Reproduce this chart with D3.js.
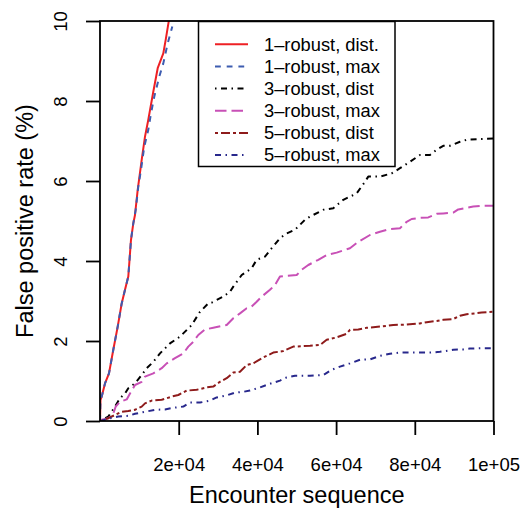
<!DOCTYPE html>
<html>
<head>
<meta charset="utf-8">
<script src="https://cdn.jsdelivr.net/npm/d3@7"></script>
<style>
  html, body { margin: 0; padding: 0; background: #fff; }
  svg text { font-family: "Liberation Sans", Arial, Helvetica, sans-serif; fill: #000; }
</style>
</head>
<body>
<svg id="chart" width="526" height="510"></svg>
<script>
// Series names, in legend order
const seriesNames = ["1\u2013robust, dist.", "1\u2013robust, max", "3\u2013robust, dist",
                     "3\u2013robust, max", "5\u2013robust, dist", "5\u2013robust, max"];

// Encounter index (x) and false positive rate in % (y) for each series
const x1dist = [0, 127, 432, 1270, 2287, 3380, 4498, 5514, 6353, 7191, 7877, 8461, 8894, 9580, 10596, 11435, 12273, 13544, 14662, 16085, 16694, 17533, 18000];
const y1dist = [0, 0.53, 0.61, 0.94, 1.19, 1.78, 2.36, 2.94, 3.28, 3.61, 4.53, 4.94, 5.15, 5.78, 6.53, 7.11, 7.53, 8.23, 8.82, 9.19, 9.53, 10.03, 10.15];

const x1max = [0, 127, 432, 1270, 2287, 3380, 4498, 5514, 6353, 7191, 7877, 8461, 9072, 9732, 10418, 11257, 12273, 12959, 13798, 15068, 16085, 17203, 18372];
const y1max = [0, 0.53, 0.61, 0.94, 1.19, 1.78, 2.36, 2.94, 3.28, 3.61, 4.53, 4.94, 5.28, 5.86, 6.28, 6.86, 7.28, 7.69, 8.11, 8.61, 8.94, 9.44, 9.86];

const x3dist = [0, 432, 2109, 3812, 5082, 6353, 7191, 8894, 10596, 11866, 13544, 15246, 17787, 20328, 21166, 23301, 25410, 27519, 28383, 31331, 33033, 33872, 36006, 38547, 39817, 41927, 43629, 45738, 47440, 49550, 52091, 53361, 56741, 59282, 61823, 65228, 67337, 68176, 71148, 74121, 76230, 78771, 81312, 83853, 85555, 87232, 88935, 91476, 93178, 96558, 100000];
const y3dist = [0, 0.03, 0.11, 0.36, 0.57, 0.69, 0.82, 0.94, 1.15, 1.32, 1.48, 1.69, 1.94, 2.11, 2.19, 2.40, 2.73, 2.94, 2.96, 3.11, 3.23, 3.36, 3.65, 3.82, 4.03, 4.11, 4.32, 4.57, 4.69, 4.78, 5.03, 5.11, 5.28, 5.32, 5.53, 5.69, 5.98, 6.11, 6.11, 6.19, 6.32, 6.48, 6.65, 6.65, 6.78, 6.88, 6.88, 6.98, 7.03, 7.05, 7.06];

const x3max = [0, 432, 2109, 3380, 3989, 5082, 6785, 7623, 8894, 10596, 11435, 13544, 15678, 16948, 19058, 21166, 22436, 23707, 24978, 26681, 28789, 32195, 33872, 35574, 37276, 38547, 39817, 41088, 43197, 44468, 45738, 47440, 49982, 51252, 52929, 55470, 57604, 60145, 63525, 65634, 68607, 71148, 73689, 76230, 77932, 79203, 81312, 83421, 85555, 87232, 89773, 91044, 93178, 94855, 96990, 100000];
const y3max = [0, 0.03, 0.07, 0.19, 0.36, 0.48, 0.54, 0.69, 0.90, 0.98, 1.11, 1.19, 1.32, 1.44, 1.57, 1.69, 1.86, 1.98, 2.15, 2.29, 2.33, 2.40, 2.57, 2.69, 2.82, 2.86, 2.98, 3.11, 3.28, 3.40, 3.61, 3.63, 3.65, 3.78, 3.90, 4.03, 4.15, 4.21, 4.32, 4.48, 4.65, 4.73, 4.80, 4.82, 4.98, 5.05, 5.08, 5.09, 5.18, 5.19, 5.21, 5.29, 5.33, 5.36, 5.38, 5.38];

const x5dist = [0, 432, 2109, 3812, 5514, 7191, 8894, 10596, 11435, 13137, 15678, 18219, 19896, 22030, 24571, 27112, 28789, 30492, 32195, 33872, 35574, 37276, 38954, 41495, 44036, 46577, 49118, 53361, 55902, 57604, 60145, 62686, 63525, 65634, 67768, 71148, 74527, 77932, 81312, 83014, 85555, 87232, 89773, 91476, 93178, 95288, 96990, 100000];
const y5dist = [0, 0.01, 0.07, 0.15, 0.23, 0.25, 0.28, 0.36, 0.44, 0.51, 0.53, 0.61, 0.65, 0.76, 0.78, 0.84, 0.86, 0.98, 1.07, 1.21, 1.23, 1.40, 1.44, 1.59, 1.71, 1.75, 1.86, 1.88, 1.90, 2.03, 2.09, 2.18, 2.28, 2.29, 2.33, 2.36, 2.40, 2.41, 2.44, 2.47, 2.50, 2.53, 2.55, 2.63, 2.67, 2.69, 2.71, 2.73];

const x5max = [0, 432, 2541, 4650, 7191, 8894, 11435, 13976, 16517, 18626, 21166, 22869, 25410, 27951, 29653, 32195, 34304, 36412, 38115, 40656, 43197, 45738, 47440, 49550, 53361, 56741, 58875, 60984, 63525, 66066, 68607, 71148, 73689, 76230, 83853, 86394, 88503, 89773, 92314, 94008, 96990, 100000];
const y5max = [0, 0.01, 0.07, 0.11, 0.13, 0.18, 0.23, 0.28, 0.29, 0.33, 0.36, 0.46, 0.46, 0.51, 0.59, 0.64, 0.71, 0.73, 0.76, 0.84, 0.93, 1.01, 1.09, 1.13, 1.13, 1.15, 1.28, 1.36, 1.44, 1.53, 1.54, 1.63, 1.68, 1.71, 1.71, 1.73, 1.76, 1.78, 1.79, 1.81, 1.82, 1.82];

const seriesX = [x1dist, x1max, x3dist, x3max, x5dist, x5max];
const seriesY = [y1dist, y1max, y3dist, y3max, y5dist, y5max];

// Axis ticks
const xTicks = [20000, 40000, 60000, 80000, 100000];
const xTickLabels = ["2e+04", "4e+04", "6e+04", "8e+04", "1e+05"];
const yTicks = [0, 2, 4, 6, 8, 10];

// Line styles per series
const colors = ["#ee2024", "#3d5cb0", "#000000", "#c850b6", "#8e1b1b", "#28288c"];
const dashes = [null, "5.8,5.9", "1.5,4.5,6,4.5", "11.5,5", "3,3,9,3", "6,4.5,1.5,4.5"];

const svg = d3.select("#chart");
const L = 100, R = 493.5, T = 21, B = 421;

const x = d3.scaleLinear().domain([0, 100000]).range([L, R]);
const y = d3.scaleLinear().domain([0, 10]).range([B, T]);

svg.append("defs").append("clipPath").attr("id", "plotclip")
  .append("rect").attr("x", L).attr("y", T).attr("width", R - L).attr("height", B - T);

// Data lines
const line = d3.line().x(d => x(d[0])).y(d => y(d[1]));
const lines = svg.append("g").attr("clip-path", "url(#plotclip)");
seriesX.forEach((xs, i) => {
  const pts = xs.map((v, j) => [v, seriesY[i][j]]);
  lines.append("path")
    .attr("d", line(pts))
    .attr("fill", "none")
    .attr("stroke", colors[i])
    .attr("stroke-width", 2)
    .attr("stroke-linejoin", "round")
    .attr("stroke-dasharray", dashes[i]);
});

// Plot frame
svg.append("rect")
  .attr("x", L).attr("y", T).attr("width", R - L).attr("height", B - T)
  .attr("fill", "none").attr("stroke", "#000").attr("stroke-width", 1.8);

// X axis
const xAxis = svg.append("g").attr("transform", `translate(0,${B})`)
  .call(d3.axisBottom(x).tickValues(xTicks).tickSize(14).tickPadding(23)
    .tickFormat((d, i) => xTickLabels[i]));
xAxis.select(".domain").remove();
xAxis.selectAll(".tick line").attr("stroke", "#000").attr("stroke-width", 1.8);
xAxis.selectAll(".tick text").attr("font-size", "18.5px")
  .attr("font-family", "Liberation Sans, Arial, sans-serif");

// Y axis with labels turned parallel to the axis
const yAxis = svg.append("g").attr("transform", `translate(${L},0)`)
  .call(d3.axisLeft(y).tickValues(yTicks).tickSize(14).tickFormat(d3.format("d")));
yAxis.select(".domain").remove();
yAxis.selectAll(".tick line").attr("stroke", "#000").attr("stroke-width", 1.8);
yAxis.selectAll(".tick text")
  .attr("font-size", "18.5px")
  .attr("font-family", "Liberation Sans, Arial, sans-serif")
  .attr("text-anchor", "middle")
  .attr("transform", "rotate(-90)")
  .attr("x", 0).attr("y", -33.3).attr("dy", 0);

// Axis titles
svg.append("text")
  .attr("x", (L + R) / 2).attr("y", 503)
  .attr("text-anchor", "middle").attr("font-size", "23.5px")
  .text("Encounter sequence");
svg.append("text")
  .attr("transform", `translate(33.3,${(T + B) / 2}) rotate(-90)`)
  .attr("text-anchor", "middle").attr("font-size", "23.5px")
  .text("False positive rate (%)");

// Legend
const lg = svg.append("g");
lg.append("rect").attr("x", 198.5).attr("y", 21.5).attr("width", 196.5).attr("height", 145)
  .attr("fill", "#fff").attr("stroke", "#000").attr("stroke-width", 1.5);
seriesNames.forEach((name, i) => {
  const cy = 44.3 + i * 22.15;
  lg.append("line").attr("x1", 215).attr("x2", 248).attr("y1", cy).attr("y2", cy)
    .attr("stroke", colors[i]).attr("stroke-width", 2)
    .attr("stroke-dasharray", dashes[i]);
  lg.append("text").attr("x", 264).attr("y", cy).attr("dy", "0.35em")
    .attr("font-size", "18.3px").text(name);
});
</script>
</body>
</html>
